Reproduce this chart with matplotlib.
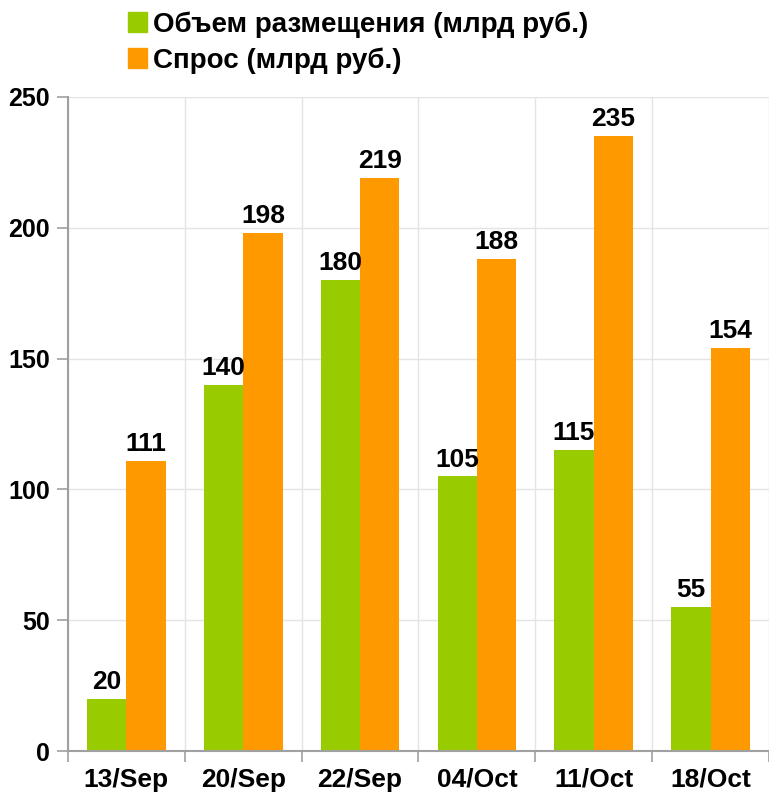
import matplotlib.pyplot as plt
import numpy as np
from matplotlib.patches import Patch

dates = ['13/Sep', '20/Sep', '22/Sep', '04/Oct', '11/Oct', '18/Oct']
volume = [20, 140, 180, 105, 115, 55]
demand = [111, 198, 219, 188, 235, 154]
series_names = ['Объем размещения (млрд руб.)', 'Спрос (млрд руб.)']

green = '#99cc00'
orange = '#ff9900'
grid_col = '#e4e4e4'
axis_col = '#a0a0a0'

plt.rcParams['font.family'] = ['Liberation Sans', 'DejaVu Sans']
plt.rcParams['font.weight'] = 'bold'

fig = plt.figure(figsize=(7.69, 7.94), dpi=100)
ax = fig.add_axes([0.0884, 0.054, 0.9116, 0.824])

index = np.arange(len(dates))
w = 0.337
b1 = ax.bar(index - w / 2, volume, w, color=green)
b2 = ax.bar(index + w / 2, demand, w, color=orange)
for bars, vals in ((b1, volume), (b2, demand)):
    for rect, v in zip(bars, vals):
        ax.text(rect.get_x() + rect.get_width() / 2, v + 1.8, str(v),
                ha='center', va='bottom', fontsize=19, fontweight='bold')

ax.set_xlim(-0.5, len(dates) - 0.5)
ax.set_ylim(0, 250)
ax.set_yticks(np.arange(0, 251, 50))
ax.set_xticks(index)
ax.set_xticklabels(dates)
ax.set_xticks(np.arange(-0.5, len(dates), 1), minor=True)

ax.tick_params(axis='x', which='major', length=0, labelsize=19, pad=12)
ax.tick_params(axis='x', which='minor', length=8, color=axis_col, width=1.2)
ax.tick_params(axis='y', length=8, color=axis_col, width=1.2, labelsize=18, pad=5)
for lbl in ax.get_xticklabels() + ax.get_yticklabels():
    lbl.set_fontweight('bold')

ax.grid(axis='y', which='major', color=grid_col, linewidth=1)
ax.grid(axis='x', which='minor', color=grid_col, linewidth=1)
ax.set_axisbelow(True)

for s in ('top', 'right'):
    ax.spines[s].set_visible(False)
for s in ('left', 'bottom'):
    ax.spines[s].set_color(axis_col)
    ax.spines[s].set_linewidth(1.5)

handles = [Patch(color=green), Patch(color=orange)]
fig.legend(handles, series_names, loc='upper left', bbox_to_anchor=(0.152, 1.0),
           frameon=False, handlelength=0.7, handleheight=0.7,
           handletextpad=0.2, labelspacing=0.35, borderaxespad=0,
           prop={'weight': 'bold', 'size': 20})

fig.savefig('out.png', dpi=100)
